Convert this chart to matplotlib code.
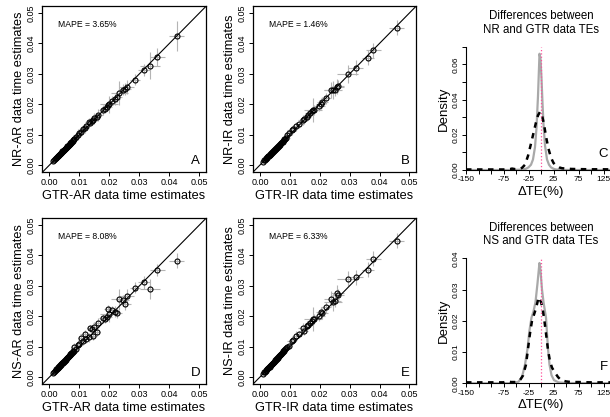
import numpy as np
import matplotlib.pyplot as plt

plt.rcParams['font.family'] = ['Liberation Sans', 'DejaVu Sans']

# ---- GTR-AR based estimates (panels A, D) ----
gtr_ar = [0.0012, 0.0016, 0.0019, 0.0021, 0.0023, 0.0025, 0.0027, 0.0028, 0.0030, 0.0031,
          0.0033, 0.0034, 0.0036, 0.0037, 0.0039, 0.0040, 0.0042, 0.0043, 0.0045, 0.0046,
          0.0048, 0.0049, 0.0051, 0.0052, 0.0054, 0.0055, 0.0057, 0.0058, 0.0060, 0.0061,
          0.0063, 0.0064, 0.0066, 0.0067, 0.0069, 0.0070, 0.0072, 0.0073, 0.0075, 0.0077,
          0.0079, 0.0081,
          0.0083, 0.0090, 0.0094, 0.0100, 0.0106, 0.0111, 0.0117, 0.0122, 0.0133, 0.0136,
          0.0142, 0.0145, 0.0150, 0.0158, 0.0162, 0.0180, 0.0184, 0.0192, 0.0196, 0.0200,
          0.0210, 0.0217, 0.0226, 0.0233, 0.0246, 0.0252, 0.0258, 0.0285, 0.0315, 0.0335,
          0.0360, 0.0424]
nr_ar = [0.0013, 0.0017, 0.0020, 0.0022, 0.0024, 0.0026, 0.0028, 0.0029, 0.0031, 0.0032,
         0.0034, 0.0035, 0.0037, 0.0038, 0.0040, 0.0041, 0.0043, 0.0045, 0.0046, 0.0047,
         0.0049, 0.0051, 0.0052, 0.0054, 0.0055, 0.0057, 0.0058, 0.0060, 0.0061, 0.0063,
         0.0064, 0.0066, 0.0067, 0.0069, 0.0070, 0.0072, 0.0073, 0.0075, 0.0077, 0.0079,
         0.0081, 0.0084,
         0.0086, 0.0093, 0.0099, 0.0104, 0.0110, 0.0117, 0.0121, 0.0128, 0.0140, 0.0139,
         0.0146, 0.0148, 0.0154, 0.0157, 0.0164, 0.0181, 0.0185, 0.0192, 0.0197, 0.0200,
         0.0211, 0.0216, 0.0224, 0.0236, 0.0247, 0.0251, 0.0256, 0.0281, 0.0313, 0.0327,
         0.0356, 0.0425]
ns_ar = [0.0013, 0.0018, 0.0021, 0.0022, 0.0025, 0.0027, 0.0028, 0.0031, 0.0032, 0.0034,
         0.0035, 0.0037, 0.0038, 0.0040, 0.0042, 0.0042, 0.0045, 0.0046, 0.0047, 0.0049,
         0.0051, 0.0052, 0.0053, 0.0056, 0.0057, 0.0058, 0.0061, 0.0061, 0.0064, 0.0065,
         0.0066, 0.0069, 0.0070, 0.0071, 0.0074, 0.0075, 0.0077, 0.0078, 0.0080, 0.0082,
         0.0084, 0.0087,
         0.0100, 0.0091, 0.0106, 0.0110, 0.0127, 0.0117, 0.0141, 0.0125, 0.0130, 0.0160,
         0.0158, 0.0135, 0.0166, 0.0148, 0.0177, 0.0193, 0.0190, 0.0199, 0.0223, 0.0207,
         0.0220, 0.0215, 0.0211, 0.0256, 0.0253, 0.0240, 0.0267, 0.0294, 0.0311, 0.0289,
         0.0352, 0.0383]
# CI half widths
gtr_ar_err = [0.0003, 0.0004, 0.0004, 0.0005, 0.0004, 0.0005, 0.0006, 0.0005, 0.0006, 0.0007,
              0.0006, 0.0005, 0.0007, 0.0006, 0.0008, 0.0006, 0.0007, 0.0008, 0.0006, 0.0007,
              0.0009, 0.0007, 0.0008, 0.0006, 0.0009, 0.0008, 0.0007, 0.0010, 0.0008, 0.0009,
              0.0007, 0.0010, 0.0009, 0.0011, 0.0008, 0.0010, 0.0012, 0.0009, 0.0011, 0.0010,
              0.0012, 0.0011,
              0.0012, 0.0010, 0.0015, 0.0012, 0.0010, 0.0012, 0.0015, 0.0012, 0.0015, 0.0012,
              0.0014, 0.0012, 0.0015, 0.0012, 0.0018, 0.0015, 0.0014, 0.0016, 0.0015, 0.0030,
              0.0015, 0.0018, 0.0016, 0.0028, 0.0018, 0.0020, 0.0025, 0.0018, 0.0020, 0.0032,
              0.0025, 0.0025]
nr_ar_err = [0.0003, 0.0004, 0.0004, 0.0005, 0.0004, 0.0005, 0.0006, 0.0005, 0.0006, 0.0007,
             0.0006, 0.0005, 0.0007, 0.0006, 0.0008, 0.0006, 0.0007, 0.0008, 0.0006, 0.0007,
             0.0009, 0.0007, 0.0008, 0.0006, 0.0009, 0.0008, 0.0007, 0.0010, 0.0008, 0.0009,
             0.0007, 0.0010, 0.0009, 0.0011, 0.0008, 0.0010, 0.0012, 0.0009, 0.0011, 0.0010,
             0.0012, 0.0011,
             0.0012, 0.0010, 0.0018, 0.0012, 0.0010, 0.0012, 0.0015, 0.0012, 0.0015, 0.0012,
             0.0014, 0.0012, 0.0018, 0.0012, 0.0020, 0.0015, 0.0014, 0.0016, 0.0015, 0.0028,
             0.0015, 0.0018, 0.0016, 0.0040, 0.0018, 0.0020, 0.0022, 0.0018, 0.0020, 0.0045,
             0.0030, 0.0050]
ns_ar_err = [0.0003, 0.0004, 0.0004, 0.0005, 0.0004, 0.0005, 0.0006, 0.0005, 0.0006, 0.0007,
             0.0006, 0.0005, 0.0007, 0.0006, 0.0008, 0.0006, 0.0007, 0.0008, 0.0006, 0.0007,
             0.0009, 0.0007, 0.0008, 0.0006, 0.0009, 0.0008, 0.0007, 0.0010, 0.0008, 0.0009,
             0.0007, 0.0010, 0.0009, 0.0011, 0.0008, 0.0010, 0.0012, 0.0009, 0.0011, 0.0010,
             0.0012, 0.0011,
             0.0012, 0.0010, 0.0015, 0.0012, 0.0010, 0.0012, 0.0015, 0.0012, 0.0015, 0.0012,
             0.0014, 0.0012, 0.0015, 0.0012, 0.0016, 0.0015, 0.0014, 0.0016, 0.0015, 0.0025,
             0.0015, 0.0018, 0.0016, 0.0035, 0.0018, 0.0020, 0.0022, 0.0018, 0.0020, 0.0032,
             0.0020, 0.0025]

# ---- GTR-IR based estimates (panels B, E) ----
gtr_ir = [0.0010, 0.0014, 0.0017, 0.0019, 0.0021, 0.0023, 0.0025, 0.0027, 0.0028, 0.0030,
          0.0032, 0.0033, 0.0035, 0.0036, 0.0038, 0.0040, 0.0041, 0.0043, 0.0044, 0.0046,
          0.0048, 0.0049, 0.0051, 0.0053, 0.0054, 0.0056, 0.0058, 0.0059, 0.0061, 0.0063,
          0.0065, 0.0066, 0.0068, 0.0070, 0.0072, 0.0074, 0.0076, 0.0078, 0.0080, 0.0082,
          0.0085, 0.0088,
          0.0091, 0.0098, 0.0106, 0.0111, 0.0122, 0.0131, 0.0144, 0.0148, 0.0156, 0.0161,
          0.0167, 0.0173, 0.0178, 0.0180, 0.0198, 0.0203, 0.0209, 0.0220, 0.0239, 0.0244,
          0.0250, 0.0259, 0.0261, 0.0294, 0.0320, 0.0360, 0.0379, 0.0458]
nr_ir = [0.0011, 0.0015, 0.0018, 0.0020, 0.0022, 0.0024, 0.0026, 0.0028, 0.0029, 0.0031,
         0.0033, 0.0034, 0.0036, 0.0037, 0.0039, 0.0041, 0.0042, 0.0044, 0.0045, 0.0047,
         0.0049, 0.0050, 0.0052, 0.0054, 0.0055, 0.0057, 0.0059, 0.0060, 0.0062, 0.0064,
         0.0066, 0.0067, 0.0069, 0.0071, 0.0073, 0.0075, 0.0077, 0.0079, 0.0082, 0.0084,
         0.0087, 0.0090,
         0.0098, 0.0105, 0.0114, 0.0120, 0.0128, 0.0134, 0.0147, 0.0150, 0.0159, 0.0165,
         0.0170, 0.0177, 0.0180, 0.0181, 0.0195, 0.0201, 0.0206, 0.0219, 0.0247, 0.0246,
         0.0247, 0.0258, 0.0261, 0.0299, 0.0320, 0.0353, 0.0377, 0.0451]
ns_ir = [0.0011, 0.0015, 0.0018, 0.0021, 0.0023, 0.0025, 0.0027, 0.0029, 0.0030, 0.0032,
         0.0034, 0.0036, 0.0037, 0.0039, 0.0041, 0.0043, 0.0044, 0.0046, 0.0047, 0.0049,
         0.0051, 0.0053, 0.0055, 0.0057, 0.0058, 0.0060, 0.0062, 0.0063, 0.0065, 0.0068,
         0.0070, 0.0071, 0.0073, 0.0075, 0.0077, 0.0080, 0.0082, 0.0084, 0.0086, 0.0088,
         0.0091, 0.0094,
         0.0098, 0.0102, 0.0118, 0.0122, 0.0135, 0.0140, 0.0162, 0.0152, 0.0169, 0.0171,
         0.0179, 0.0184, 0.0191, 0.0190, 0.0202, 0.0213, 0.0210, 0.0229, 0.0257, 0.0246,
         0.0250, 0.0276, 0.0271, 0.0323, 0.0328, 0.0353, 0.0389, 0.0448]
gtr_ir_err = [0.0003, 0.0004, 0.0004, 0.0005, 0.0004, 0.0005, 0.0006, 0.0005, 0.0006, 0.0007,
              0.0006, 0.0005, 0.0007, 0.0006, 0.0008, 0.0006, 0.0007, 0.0008, 0.0006, 0.0007,
              0.0009, 0.0007, 0.0008, 0.0006, 0.0009, 0.0008, 0.0007, 0.0010, 0.0008, 0.0009,
              0.0007, 0.0010, 0.0009, 0.0011, 0.0008, 0.0010, 0.0012, 0.0009, 0.0011, 0.0010,
              0.0012, 0.0011,
              0.0012, 0.0010, 0.0014, 0.0012, 0.0015, 0.0012, 0.0016, 0.0014, 0.0015, 0.0013,
              0.0015, 0.0014, 0.0030, 0.0016, 0.0018, 0.0016, 0.0018, 0.0017, 0.0025, 0.0030,
              0.0020, 0.0022, 0.0020, 0.0035, 0.0025, 0.0020, 0.0025, 0.0025]
nr_ir_err = [0.0003, 0.0004, 0.0004, 0.0005, 0.0004, 0.0005, 0.0006, 0.0005, 0.0006, 0.0007,
             0.0006, 0.0005, 0.0007, 0.0006, 0.0008, 0.0006, 0.0007, 0.0008, 0.0006, 0.0007,
             0.0009, 0.0007, 0.0008, 0.0006, 0.0009, 0.0008, 0.0007, 0.0010, 0.0008, 0.0009,
             0.0007, 0.0010, 0.0009, 0.0011, 0.0008, 0.0010, 0.0012, 0.0009, 0.0011, 0.0010,
             0.0012, 0.0011,
             0.0012, 0.0010, 0.0014, 0.0012, 0.0015, 0.0012, 0.0016, 0.0014, 0.0015, 0.0013,
             0.0015, 0.0014, 0.0040, 0.0016, 0.0018, 0.0016, 0.0018, 0.0017, 0.0025, 0.0030,
             0.0020, 0.0025, 0.0020, 0.0030, 0.0025, 0.0025, 0.0025, 0.0025]
ns_ir_err = [0.0003, 0.0004, 0.0004, 0.0005, 0.0004, 0.0005, 0.0006, 0.0005, 0.0006, 0.0007,
             0.0006, 0.0005, 0.0007, 0.0006, 0.0008, 0.0006, 0.0007, 0.0008, 0.0006, 0.0007,
             0.0009, 0.0007, 0.0008, 0.0006, 0.0009, 0.0008, 0.0007, 0.0010, 0.0008, 0.0009,
             0.0007, 0.0010, 0.0009, 0.0011, 0.0008, 0.0010, 0.0012, 0.0009, 0.0011, 0.0010,
             0.0012, 0.0011,
             0.0012, 0.0010, 0.0014, 0.0012, 0.0015, 0.0012, 0.0016, 0.0014, 0.0015, 0.0013,
             0.0015, 0.0014, 0.0040, 0.0016, 0.0018, 0.0016, 0.0018, 0.0017, 0.0025, 0.0030,
             0.0020, 0.0025, 0.0020, 0.0025, 0.0025, 0.0025, 0.0025, 0.0025]

# ---- density curves of percent differences ----
c_gray_x = [-150, -60, -40, -30, -25, -20, -16, -12, -9, -6, -4, -3, -1, 1, 3, 5, 8, 12, 16,
            20, 25, 30, 40, 60, 150]
c_gray_y = [0, 0, 0.0002, 0.0007, 0.0015, 0.003, 0.006, 0.013, 0.024, 0.042, 0.058, 0.066,
            0.063, 0.052, 0.038, 0.026, 0.014, 0.006, 0.003, 0.0015, 0.0007, 0.0003, 0.0001, 0, 0]
c_dash_x = [-150, -100, -75, -62, -58, -52, -45, -38, -32, -26, -20, -15, -10, -6, -2, 2, 6,
            10, 15, 20, 25, 30, 36, 42, 50, 60, 75, 100, 125, 150]
c_dash_y = [0.0003, 0.0003, 0.0003, 0.0005, 0.0008, 0.0005, 0.0005, 0.0012, 0.003, 0.008,
            0.015, 0.021, 0.027, 0.031, 0.033, 0.031, 0.026, 0.019, 0.012, 0.007, 0.004,
            0.0025, 0.0015, 0.001, 0.0008, 0.0006, 0.0005, 0.0004, 0.0004, 0.0003]
f_gray_x = [-150, -60, -45, -38, -32, -27, -23, -19, -15, -11, -7, -4, -3, -1, 2, 5, 8, 10,
            12, 14, 17, 21, 26, 35, 50, 150]
f_gray_y = [0, 0, 0.0005, 0.002, 0.006, 0.011, 0.017, 0.021, 0.023, 0.026, 0.032, 0.037,
            0.0385, 0.036, 0.030, 0.026, 0.023, 0.021, 0.016, 0.011, 0.006, 0.0026, 0.001,
            0.0003, 0.0001, 0]
f_dash_x = [-150, -100, -75, -68, -60, -50, -42, -36, -30, -26, -22, -18, -14, -10, -7, -5,
            -3, 0, 3, 6, 10, 14, 18, 22, 28, 34, 40, 50, 60, 75, 100, 125, 150]
f_dash_y = [0.0003, 0.0003, 0.0003, 0.0006, 0.0004, 0.0004, 0.001, 0.0025, 0.006, 0.011,
            0.016, 0.020, 0.022, 0.024, 0.026, 0.0275, 0.027, 0.026, 0.024, 0.021, 0.016,
            0.0107, 0.007, 0.005, 0.0034, 0.002, 0.001, 0.0006, 0.0004, 0.0004, 0.0003,
            0.0003, 0.0003]

scatter_ticks = [0.00, 0.01, 0.02, 0.03, 0.04, 0.05]
dte_ticks = [-150, -125, -100, -75, -50, -25, 0, 25, 50, 75, 100, 125, 150]
dte_labels = ['-150', '', '', '-75', '', '-25', '', '25', '', '75', '', '125', '']

W, H = 610, 417
fig = plt.figure(figsize=(W / 100, H / 100), dpi=100)


def px_axes(left, top, right, bottom):
    return fig.add_axes([left / W, 1 - bottom / H, (right - left) / W, (bottom - top) / H])


def scatter_panel(ax, x, y, xe, ye, xlab, ylab, mape, letter):
    ax.errorbar(x, y, xerr=xe, yerr=ye, fmt='none', ecolor='#b4b4b4', elinewidth=0.8,
                capsize=0, zorder=1)
    ax.plot([-0.01, 0.06], [-0.01, 0.06], color='black', lw=0.8, zorder=2)
    ax.plot(x, y, 'o', mfc='none', mec='black', ms=3.6, mew=0.8, zorder=3)
    ax.set_xlim(-0.0025, 0.0522)
    ax.set_ylim(-0.0023, 0.0523)
    ax.set_xticks(scatter_ticks)
    ax.set_yticks(scatter_ticks)
    ax.set_xticklabels(['%.2f' % t for t in scatter_ticks], fontsize=6.5)
    ax.set_yticklabels(['%.2f' % t for t in scatter_ticks], fontsize=6.5, rotation=90,
                       va='center')
    ax.tick_params(direction='out', length=3, width=0.7, pad=1.5)
    for s in ax.spines.values():
        s.set_linewidth(0.9)
    ax.set_xlabel(xlab, fontsize=9.2, labelpad=2)
    ax.set_ylabel(ylab, fontsize=9.2, labelpad=1)
    ax.text(0.098, 0.89, 'MAPE = ' + mape, transform=ax.transAxes, fontsize=6.2,
            va='center', ha='left')
    ax.text(0.935, 0.065, letter, transform=ax.transAxes, fontsize=9.5, ha='center',
            va='center')


def density_panel(ax, gx, gy, dx, dy, ymax, yticks, ylabels, vline, title, letter):
    ax.plot(gx, gy, color='#a9a9a9', lw=1.6, zorder=2)
    ax.plot(dx, dy, color='black', lw=1.8, dashes=(2.2, 2.2), zorder=3)
    ax.plot([vline, vline], [0, ymax], color='#ff4f9b', lw=0.9, ls=':', zorder=4)
    ax.set_xlim(-150, 150)
    ax.set_ylim(0, ymax)
    ax.spines['top'].set_visible(False)
    ax.spines['right'].set_visible(False)
    for s in ax.spines.values():
        s.set_linewidth(0.8)
    ax.set_xticks(dte_ticks)
    ax.set_xticklabels(dte_labels, fontsize=6)
    ax.set_yticks(yticks)
    ax.set_yticklabels(ylabels, fontsize=6, rotation=90, va='center')
    ax.tick_params(direction='out', length=3, width=0.7, pad=1.5)
    ax.set_ylabel('Density', fontsize=9.5, labelpad=2)
    ax.set_xlabel('\u0394TE(%)', fontsize=9.5, labelpad=2)
    ax.set_title(title, fontsize=8.3, pad=10, linespacing=1.15)
    ax.text(125, ymax * 0.13, letter, fontsize=9.5, ha='center', va='center')


axA = px_axes(42, 6, 206, 172)
axB = px_axes(252.5, 6, 416, 172)
axD = px_axes(42, 218, 206, 384)
axE = px_axes(252.5, 218, 416, 384)
axC = px_axes(466, 46.7, 616, 170)
axF = px_axes(466, 258.3, 616, 383.3)

scatter_panel(axA, gtr_ar, nr_ar, gtr_ar_err, nr_ar_err, 'GTR-AR data time estimates',
              'NR-AR data time estimates', '3.65%', 'A')
scatter_panel(axB, gtr_ir, nr_ir, gtr_ir_err, nr_ir_err, 'GTR-IR data time estimates',
              'NR-IR data time estimates', '1.46%', 'B')
scatter_panel(axD, gtr_ar, ns_ar, gtr_ar_err, ns_ar_err, 'GTR-AR data time estimates',
              'NS-AR data time estimates', '8.08%', 'D')
scatter_panel(axE, gtr_ir, ns_ir, gtr_ir_err, ns_ir_err, 'GTR-IR data time estimates',
              'NS-IR data time estimates', '6.33%', 'E')

c_yt = [0.00, 0.01, 0.02, 0.03, 0.04, 0.05, 0.06, 0.07]
c_yl = ['0.00', '', '0.02', '', '0.04', '', '0.06', '']
density_panel(axC, c_gray_x, c_gray_y, c_dash_x, c_dash_y, 0.07, c_yt, c_yl, 0,
              'Differences between\nNR and GTR data TEs', 'C')
f_yt = [0.00, 0.01, 0.02, 0.03, 0.04]
f_yl = ['0.00', '0.01', '0.02', '0.03', '0.04']
density_panel(axF, f_gray_x, f_gray_y, f_dash_x, f_dash_y, 0.04, f_yt, f_yl, 0,
              'Differences between\nNS and GTR data TEs', 'F')

fig.savefig('out.png', dpi=100)
